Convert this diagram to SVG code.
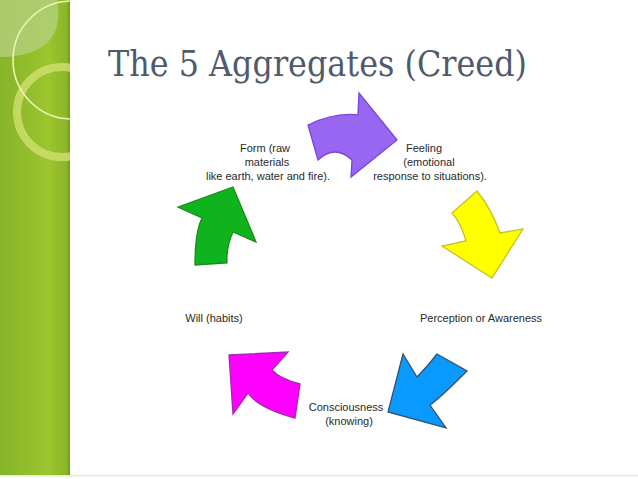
<svg xmlns="http://www.w3.org/2000/svg" width="638" height="479" viewBox="0 0 638 479">
<style>
.lbl{font-family:"Liberation Sans",Arial,sans-serif;font-size:11px;fill:#2a2a2a;text-anchor:middle}
.arrow{stroke-width:1.3;stroke-linejoin:miter}
</style>
<defs>
<linearGradient id="strip" x1="0" y1="0" x2="1" y2="0">
<stop offset="0" stop-color="#86b42a"/>
<stop offset="0.7" stop-color="#9cc52e"/>
<stop offset="0.95" stop-color="#8ab628"/>
<stop offset="1" stop-color="#6e9a1c"/>
</linearGradient>
<clipPath id="sc"><rect x="0" y="0" width="70" height="475"/></clipPath>
</defs>
<rect x="0" y="0" width="638" height="479" fill="#ffffff"/>
<g id="background">
<rect x="0" y="0" width="70" height="475" fill="url(#strip)"/>
<g clip-path="url(#sc)">
<path d="M0,0 L57,0 Q67,56 0,57 Z" fill="#b2cf78" opacity="0.85"/>
<circle cx="62" cy="112" r="45" fill="none" stroke="#cfe070" stroke-width="8" opacity="0.8"/>
<circle cx="72" cy="60" r="59" fill="none" stroke="#eef2b8" stroke-width="1.6"/>
</g>
<rect x="0" y="475" width="638" height="1.5" fill="#e2ebd2"/>
</g>
<text id="title" x="108" y="76" font-family="'DejaVu Serif',Georgia,serif" font-size="35" fill="#4f5a6c" textLength="419" lengthAdjust="spacingAndGlyphs">The 5 Aggregates (Creed)</text>
<g id="connectors">
<path id="arrow-purple" class="arrow" d="M308,125 Q335,112 358,115 L359,93 L397,140 L351,177 L352,160 Q335,144 318,160 Z" fill="#9966f2" stroke="#7a44d8"/>
<path id="arrow-yellow" class="arrow" d="M452,213 L477,191 Q491,208 500,233 L523,229 L492,278 L442,246 L466,241 Q461,223 452,213 Z" fill="#ffff00" stroke="#c4c428"/>
<path id="arrow-blue" class="arrow" d="M403,354 L417,377 Q428,366 437,354 L467,371 Q440,398 430,405 L446,428 L388,412 Z" fill="#0a99ff" stroke="#36536e"/>
<path id="arrow-pink" class="arrow" d="M229,355 L288,352 L272,370 Q280,379 300,384 L295,418 Q258,408 248,393 L233,414 Z" fill="#ff00ff" stroke="#a826b8"/>
<path id="arrow-green" class="arrow" d="M178,207 L233,187 L256,242 L233,232 Q226,247 227,263 L195,265 Q195,232 202,218 Z" fill="#0fb31e" stroke="#1a8a1a"/>
</g>
<g id="node-form">
<text class="lbl" x="265" y="152">Form (raw</text>
<text class="lbl" x="267" y="166">materials</text>
<text class="lbl" x="268" y="180">like earth, water and fire).</text>
</g>
<g id="node-feeling">
<text class="lbl" x="424" y="152">Feeling</text>
<text class="lbl" x="429" y="166">(emotional</text>
<text class="lbl" x="430" y="180">response to situations).</text>
</g>
<g id="node-perception">
<text class="lbl" x="481" y="322">Perception or Awareness</text>
</g>
<g id="node-consciousness">
<text class="lbl" x="346" y="411">Consciousness</text>
<text class="lbl" x="349" y="425">(knowing)</text>
</g>
<g id="node-will">
<text class="lbl" x="214" y="322">Will (habits)</text>
</g>
</svg>
